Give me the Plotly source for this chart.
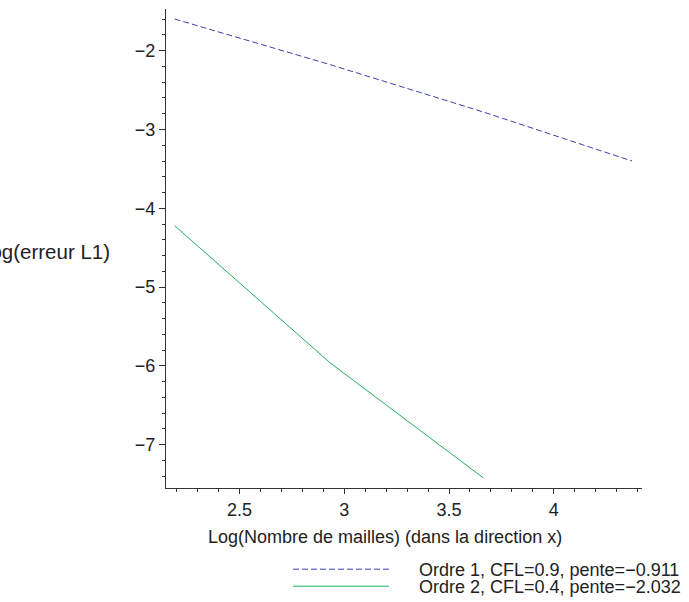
import plotly.graph_objects as go

# Data (log-log convergence)
x_pts = [2.19, 2.93, 3.66, 4.373]
ordre1 = [-1.598, -2.175, -2.775, -3.40]
x_pts2 = [2.19, 2.933, 3.663]
ordre2 = [-4.22, -5.963, -7.42]
names = ["Ordre 1, CFL=0.9, pente=\u22120.911", "Ordre 2, CFL=0.4, pente=\u22122.032"]
xtick_vals = [2.5, 3, 3.5, 4]
ytick_vals = [-2, -3, -4, -5, -6, -7]

FONT = "Liberation Sans, Arial, Helvetica, sans-serif"
AX = "#333333"
PAD = "\u00a0" * 5

L, R, T, B = 166, 642, 9, 488
W, H = R - L, B - T


def px_x(p):
    return (p - L) / W


def px_y(p):
    return (B - p) / H


fig = go.Figure()
fig.add_trace(go.Scatter(x=x_pts, y=ordre1, mode="lines", name=PAD + names[0], legend="legend",
                         line=dict(color="#3f3fb0", width=1, dash="6px,3px")))
fig.add_trace(go.Scatter(x=x_pts2, y=ordre2, mode="lines", name=PAD + names[1], legend="legend2",
                         line=dict(color="#1fb060", width=1)))

leg_common = dict(xanchor="left", yanchor="middle", itemwidth=96, font=dict(size=18),
                  bgcolor="rgba(0,0,0,0)", borderwidth=0)

fig.update_layout(
    width=689, height=602,
    margin=dict(l=L, r=689 - R, t=T, b=602 - B, autoexpand=False),
    paper_bgcolor="white", plot_bgcolor="white",
    font=dict(family=FONT, size=18, color="#222222"),
    showlegend=True,
    legend=dict(x=px_x(288), y=px_y(569.5), **leg_common),
    legend2=dict(x=px_x(288), y=px_y(586.5), **leg_common),
    xaxis=dict(range=[2.149, 4.421], showgrid=False, zeroline=False,
               showline=True, linecolor=AX, linewidth=1,
               tickvals=xtick_vals, ticks="outside", ticklen=5, tickcolor=AX,
               minor=dict(dtick=0.1, tick0=0, ticks="outside", ticklen=3, tickcolor=AX),
               tickfont=dict(size=18)),
    yaxis=dict(range=[-7.55, -1.471], showgrid=False, zeroline=False,
               showline=True, linecolor=AX, linewidth=1,
               tickvals=ytick_vals, ticks="outside", ticklen=6, tickcolor=AX,
               minor=dict(dtick=0.2, tick0=0, ticks="outside", ticklen=3, tickcolor=AX),
               tickfont=dict(size=18)),
    annotations=[
        dict(text="Log(erreur L1)", xref="paper", yref="paper",
             x=px_x(112), y=px_y(252), xanchor="right", yanchor="middle",
             showarrow=False, font=dict(size=20.5)),
        dict(text="Log(Nombre de mailles) (dans la direction x)", xref="paper", yref="paper",
             x=px_x(385), y=px_y(537), xanchor="center", yanchor="middle",
             showarrow=False, font=dict(size=18)),
    ],
)

fig.write_html("out.html", config={"displayModeBar": False},
               post_script="document.body.style.margin='0';document.body.style.overflow='hidden';")
